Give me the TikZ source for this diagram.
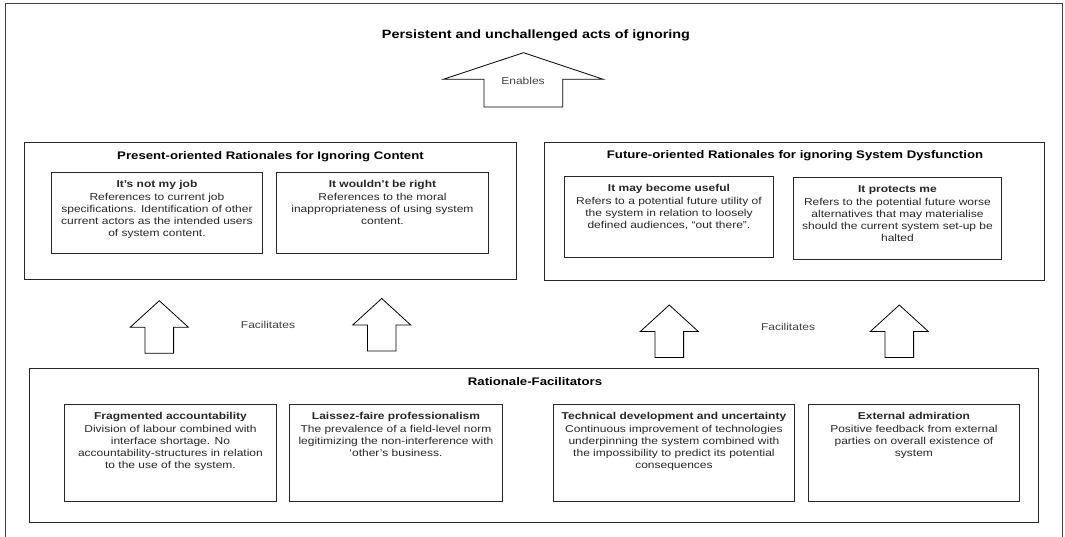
\documentclass[tikz,border=0pt]{standalone}
\usepackage{fontspec}
\setmainfont{Liberation Sans}[FakeStretch=1.2]
\begin{document}
\begin{tikzpicture}[x=1pt,y=-1pt,
  frame/.style={draw=black!75, line width=1pt},
  box/.style={draw=black!85, line width=0.9pt, rectangle, inner sep=0pt, anchor=north west},
  body/.style={align=center, font=\fontsize{10}{12}\selectfont, text=black!85, inner sep=0pt, anchor=north},
  sect/.style={font=\fontsize{11}{13}\selectfont\bfseries, inner sep=0pt},
  goalst/.style={font=\fontsize{12}{14}\selectfont\bfseries, inner sep=0pt},
  lbl/.style={font=\fontsize{10}{12}\selectfont, text=black!75, inner sep=0pt},
  blk/.style={draw=black, line width=0.8pt, fill=white, line join=miter},
  uparr/.pic={\draw[blk] (0,0) -- (29,26.5) -- (14.3,26.5) -- (14.3,52.5) -- (-14.3,52.5) -- (-14.3,26.5) -- (-29,26.5) -- cycle;}
]
\useasboundingbox (0,0) rectangle (1065,537);
\draw[frame] (5,537) -- (5,4) -- (1062,4) -- (1062,537);

% top title and Enables arrow
\node[goalst] (goal) at (536,35) {Persistent and unchallenged acts of ignoring};
\draw[blk] (523.5,52.7) -- (603.3,79.3) -- (562.7,79.3) -- (562.7,107) -- (484,107) -- (484,79.3) -- (443.3,79.3) -- cycle;
\node[lbl] (enables) at (523,81) {Enables};

% present-oriented
\node[box, minimum width=492pt, minimum height=137pt] (present) at (24,142) {};
\node[sect] (presentT) at (270.5,157) {Present-oriented Rationales for Ignoring Content};
\node[box, minimum width=211pt, minimum height=81pt] (job) at (51,172) {};
\node[body] (jobT) at ([yshift=-8.5pt]job.north) {\textbf{It’s not my job}\\[1pt]References to current job\\specifications. Identification of other\\current actors as the intended users\\of system content.};
\node[box, minimum width=212pt, minimum height=81pt] (right) at (276,172) {};
\node[body] (rightT) at ([yshift=-8.5pt]right.north) {\textbf{It wouldn’t be right}\\[1pt]References to the moral\\inappropriateness of using system\\content.};

% future-oriented
\node[box, minimum width=500pt, minimum height=138pt] (future) at (544,142) {};
\node[sect] (futureT) at (795,156) {Future-oriented Rationales for ignoring System Dysfunction};
\node[box, minimum width=209pt, minimum height=81pt] (useful) at (564,176) {};
\node[body] (usefulT) at ([yshift=-8.5pt]useful.north) {\textbf{It may become useful}\\[1pt]Refers to a potential future utility of\\the system in relation to loosely\\defined audiences, “out there”.};
\node[box, minimum width=208pt, minimum height=82pt] (protects) at (793,177) {};
\node[body] (protectsT) at ([yshift=-8.5pt]protects.north) {\textbf{It protects me}\\[1pt]Refers to the potential future worse\\alternatives that may materialise\\should the current system set-up be\\halted};

% facilitates arrows
\pic at (159.3,300.7) {uparr};
\pic at (381.7,298.5) {uparr};
\pic at (669.3,305) {uparr};
\pic at (899.3,305) {uparr};
\node[lbl] (fac1) at (268,325) {Facilitates};
\node[lbl] (fac2) at (788,327) {Facilitates};

% rationale facilitators
\node[box, minimum width=1009pt, minimum height=154pt] (facil) at (29,368) {};
\node[sect] (facilT) at (535,382) {Rationale-Facilitators};
\node[box, minimum width=212pt, minimum height=97pt] (frag) at (64,404) {};
\node[body] (fragT) at ([yshift=-8.5pt]frag.north) {\textbf{Fragmented accountability}\\[0.5pt]Division of labour combined with\\interface shortage. No\\accountability-structures in relation\\to the use of the system.};
\node[box, minimum width=213pt, minimum height=97pt] (laissez) at (289,404) {};
\node[body] (laissezT) at ([yshift=-8.5pt]laissez.north) {\textbf{Laissez-faire professionalism}\\[0.5pt]The prevalence of a field-level norm\\legitimizing the non-interference with\\‘other’s business.};
\node[box, minimum width=241pt, minimum height=97pt] (tech) at (553,404) {};
\node[body] (techT) at ([yshift=-8.5pt]tech.north) {\textbf{Technical development and uncertainty}\\[0.5pt]Continuous improvement of technologies\\underpinning the system combined with\\the impossibility to predict its potential\\consequences};
\node[box, minimum width=211pt, minimum height=97pt] (admir) at (808,404) {};
\node[body] (admirT) at ([yshift=-8.5pt]admir.north) {\textbf{External admiration}\\[0.5pt]Positive feedback from external\\parties on overall existence of\\system};
\end{tikzpicture}
\end{document}
